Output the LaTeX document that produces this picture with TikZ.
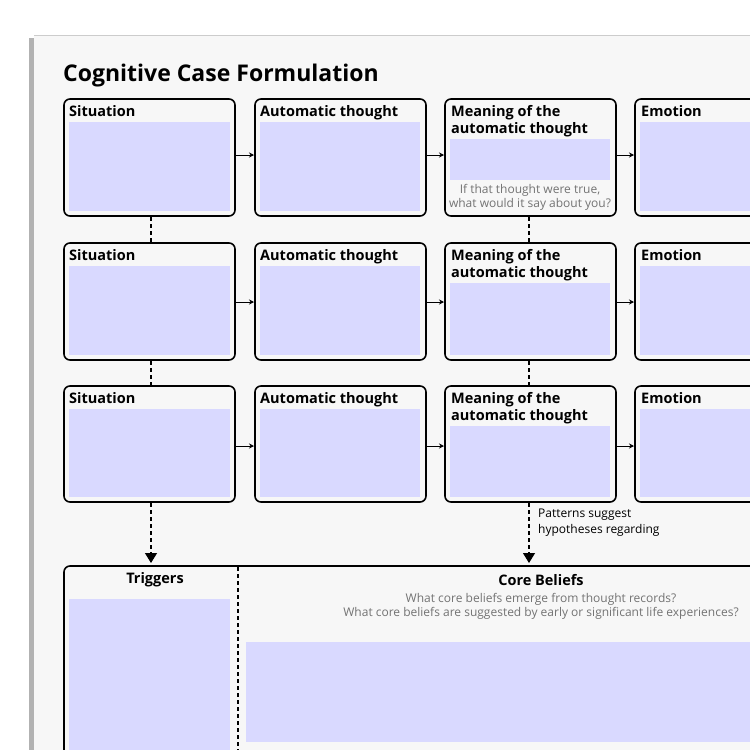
\documentclass[tikz,border=0pt]{standalone}
\usepackage{fontspec}
\setmainfont{Open Sans}
\usetikzlibrary{arrows.meta}
\begin{document}
\begin{tikzpicture}[x=1pt,y=-1pt,
 box/.style={draw=black,line width=1.6pt,rounded corners=6pt},
 fillb/.style={fill=blue!15!white,draw=none},
 lab/.style={anchor=north west,inner sep=0pt,font=\fontsize{14.5}{17}\selectfont\bfseries,align=left},
 gray/.style={text=black!55,font=\fontsize{12}{16}\selectfont,align=center},
 arr/.style={-{Stealth[length=5pt,width=5pt]},line width=0.8pt},
 darr/.style={dashed,line width=1.2pt,dash pattern=on 4pt off 3pt,-{Triangle[length=10pt,width=12pt]}}]
\useasboundingbox (0,0) rectangle (750,750);
\fill[white] (0,0) rectangle (750,750);
\fill[black!30] (29,38) rectangle (750,750);
\fill[black!3] (34,35) rectangle (750,750);
\draw[black!20] (34,35) -- (750,35);
\node[anchor=west,inner sep=0pt,font=\fontsize{23}{26}\selectfont\bfseries] (title) at (63,76) {Cognitive Case Formulation};
\foreach \r/\t/\b in {1/99/216,2/243/360,3/386/502}{
 \foreach \c/\l in {1/64,2/255,3/445,4/635}{
  \draw[box] (\l,\t) rectangle ++(171,\b-\t) coordinate (e\r\c);
  \coordinate (tl\r\c) at (\l,\t);
 }
 \node[lab] at (69,\t+6) {Situation};
 \node[lab] at (260,\t+6) {Automatic thought};
 \node[lab] at (451,\t+6) {Meaning of the\\automatic thought};
 \node[lab] at (641,\t+6) {Emotion};
 \fill[fillb] (69,\t+23) rectangle (230,\b-5);
 \fill[fillb] (260,\t+23) rectangle (420,\b-5);
 \fill[fillb] (640,\t+23) rectangle (750,\b-5);
}
\fill[fillb] (450,139) rectangle (610,180);
\fill[fillb] (450,283) rectangle (610,355);
\fill[fillb] (450,426) rectangle (610,497);
\node[gray] (hint) at (530,197) {If that thought were true,\\[-2pt]what would it say about you?};
\foreach \y in {155,302,446}{
 \coordinate (a1) at (235,\y); \coordinate (b1) at (254,\y);
 \draw[arr] (a1) -- (b1);
 \coordinate (a2) at (426,\y); \coordinate (b2) at (444,\y);
 \draw[arr] (a2) -- (b2);
 \coordinate (a3) at (616,\y); \coordinate (b3) at (634,\y);
 \draw[arr] (a3) -- (b3);
}
\foreach \x in {151,529}{
 \draw[dashed,line width=1.2pt,dash pattern=on 4pt off 3pt] (\x,217) -- (\x,242);
 \draw[dashed,line width=1.2pt,dash pattern=on 4pt off 3pt] (\x,361) -- (\x,385);
 \coordinate (s\x) at (\x,503); \coordinate (t\x) at (\x,563);
 \draw[darr] (s\x) -- (t\x);
}
\node[anchor=west,inner sep=0pt,font=\fontsize{12}{16}\selectfont,align=left] (pat) at (538,523) {Patterns suggest\\hypotheses regarding};
\draw[box] (64,566) rectangle (790,790);
\draw[dashed,line width=1.2pt,dash pattern=on 4pt off 3pt] (238,567) -- (238,750);
\node[font=\fontsize{14.5}{17}\selectfont\bfseries] (trig) at (155,580) {Triggers};
\node[font=\fontsize{14.5}{17}\selectfont\bfseries] (core) at (541,580) {Core Beliefs};
\node[gray] (q) at (541,606) {What core beliefs emerge from thought records?\\[-2pt]What core beliefs are suggested by early or significant life experiences?};
\fill[fillb] (69,599) rectangle (230,750);
\fill[fillb] (246,642) rectangle (750,742);
\end{tikzpicture}
\end{document}
